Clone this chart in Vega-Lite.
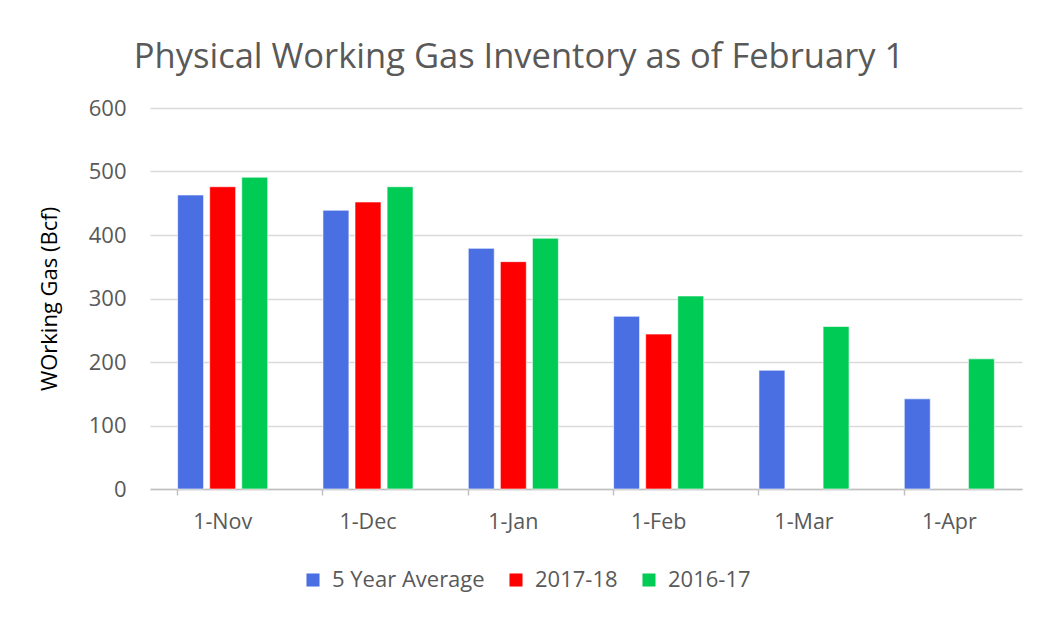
{
  "$schema": "https://vega.github.io/schema/vega-lite/v6.json",
  "autosize": "none",
  "width": 872,
  "height": 381,
  "padding": {"left": 150, "top": 108, "right": 29, "bottom": 132},
  "background": "white",
  "title": {
    "text": "Physical Working Gas Inventory as of February 1",
    "font": "Open Sans",
    "fontSize": 34.5,
    "fontWeight": "normal",
    "color": "#595959",
    "anchor": "middle",
    "dx": -67,
    "offset": 22
  },
  "data": {
    "values": [
      {"month": "1-Nov", "series": "5 Year Average", "value": 463},
      {"month": "1-Nov", "series": "2017-18", "value": 476},
      {"month": "1-Nov", "series": "2016-17", "value": 491},
      {"month": "1-Dec", "series": "5 Year Average", "value": 439},
      {"month": "1-Dec", "series": "2017-18", "value": 452},
      {"month": "1-Dec", "series": "2016-17", "value": 476},
      {"month": "1-Jan", "series": "5 Year Average", "value": 379},
      {"month": "1-Jan", "series": "2017-18", "value": 358},
      {"month": "1-Jan", "series": "2016-17", "value": 395},
      {"month": "1-Feb", "series": "5 Year Average", "value": 272},
      {"month": "1-Feb", "series": "2017-18", "value": 244},
      {"month": "1-Feb", "series": "2016-17", "value": 304},
      {"month": "1-Mar", "series": "5 Year Average", "value": 187},
      {"month": "1-Mar", "series": "2016-17", "value": 256},
      {"month": "1-Apr", "series": "5 Year Average", "value": 142},
      {"month": "1-Apr", "series": "2016-17", "value": 205}
    ]
  },
  "mark": {"type": "bar", "stroke": "white", "strokeOpacity": 0.6, "strokeWidth": 1},
  "encoding": {
    "x": {
      "field": "month",
      "type": "nominal",
      "sort": ["1-Nov", "1-Dec", "1-Jan", "1-Feb", "1-Mar", "1-Apr"],
      "scale": {"paddingInner": 0.38, "paddingOuter": 0.19},
      "axis": {
        "title": null,
        "labelAngle": 0,
        "labelFont": "Open Sans",
        "labelFontSize": 21.5,
        "labelColor": "#595959",
        "labelPadding": 16,
        "domainColor": "#c0c0c0",
        "domainWidth": 1.5,
        "tickColor": "#c0c0c0",
        "tickWidth": 1.5,
        "tickSize": 6,
        "bandPosition": 0,
        "grid": false
      }
    },
    "xOffset": {
      "field": "series",
      "type": "nominal",
      "sort": ["5 Year Average", "2017-18", "2016-17"],
      "scale": {"paddingInner": 0.19, "paddingOuter": 0}
    },
    "y": {
      "field": "value",
      "type": "quantitative",
      "scale": {"domain": [0, 600]},
      "axis": {
        "title": "WOrking Gas (Bcf)",
        "titleFont": "Open Sans",
        "titleFontSize": 22,
        "titleFontWeight": "normal",
        "titleColor": "#000000",
        "titlePadding": 27,
        "values": [0, 100, 200, 300, 400, 500, 600],
        "labelFont": "Open Sans",
        "labelFontSize": 22,
        "labelColor": "#595959",
        "labelPadding": 24,
        "domain": false,
        "ticks": false,
        "gridColor": "#d9d9d9",
        "gridWidth": 1.5
      }
    },
    "color": {
      "field": "series",
      "type": "nominal",
      "sort": ["5 Year Average", "2017-18", "2016-17"],
      "scale": {
        "domain": ["5 Year Average", "2017-18", "2016-17"],
        "range": ["#4a6fe3", "#ff0000", "#00cc55"]
      },
      "legend": {
        "title": null,
        "orient": "none",
        "direction": "horizontal",
        "legendX": 152,
        "legendY": 461,
        "symbolType": "square",
        "symbolSize": 170,
        "symbolStrokeWidth": 0,
        "labelFont": "Open Sans",
        "labelFontSize": 22,
        "labelColor": "#595959",
        "labelOffset": 8,
        "columnPadding": 20
      }
    }
  },
  "config": {"view": {"stroke": null}}
}
